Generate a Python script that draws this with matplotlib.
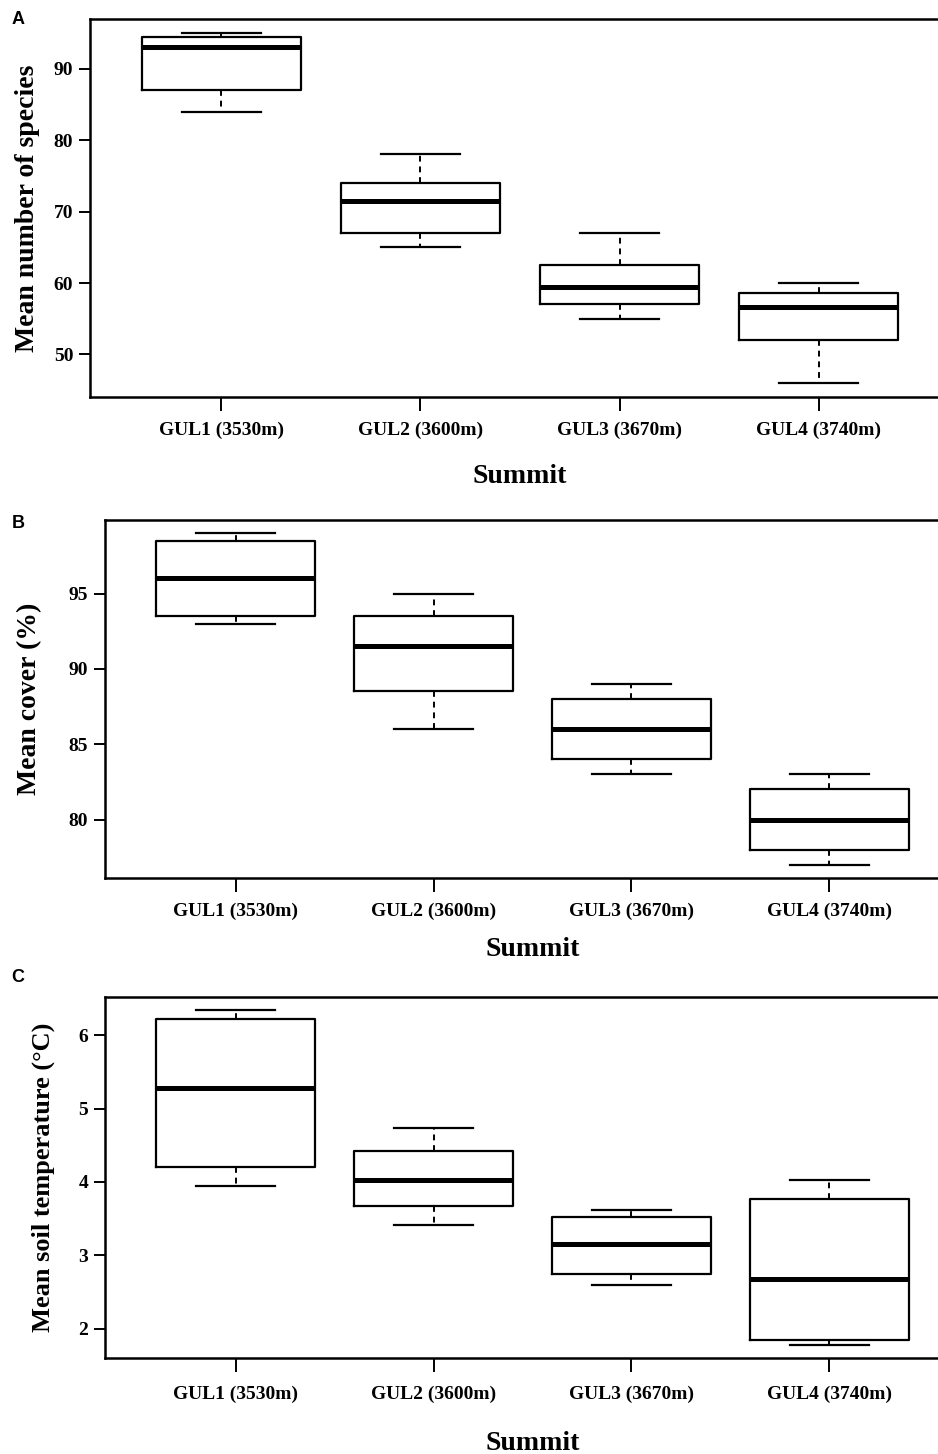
import matplotlib
matplotlib.use("Agg")
import matplotlib.pyplot as plt

# summits on the x axis
summits = ["GUL1 (3530m)", "GUL2 (3600m)", "GUL3 (3670m)", "GUL4 (3740m)"]

# box stats: low whisker, q1, median, q3, high whisker
species_low = [84, 65, 55, 46]
species_q1 = [87, 67, 57, 52]
species_med = [93, 71.5, 59.5, 56.7]
species_q3 = [94.5, 74, 62.5, 58.6]
species_high = [95, 78, 67, 60]

cover_low = [93, 86, 83, 77]
cover_q1 = [93.5, 88.5, 84, 78]
cover_med = [96, 91.5, 86, 80]
cover_q3 = [98.5, 93.5, 88, 82]
cover_high = [99, 95, 89, 83]

temp_low = [3.94, 3.41, 2.60, 1.78]
temp_q1 = [4.20, 3.67, 2.75, 1.84]
temp_med = [5.28, 4.02, 3.15, 2.68]
temp_q3 = [6.22, 4.42, 3.52, 3.76]
temp_high = [6.34, 4.74, 3.62, 4.02]

W, H = 938, 1454
fig = plt.figure(figsize=(W / 100, H / 100), dpi=100)

serif = "Liberation Serif"


def px_axes(left, top, right, bottom):
    return fig.add_axes([left / W, 1 - bottom / H, (right - left) / W, (bottom - top) / H])


def draw_panel(ax, low, q1, med, q3, high, yticks, ylabel, ylab_x, ylab_size,
               xpad, xlab_pad, letter, letter_y):
    stats = []
    for i in range(len(summits)):
        stats.append(dict(med=med[i], q1=q1[i], q3=q3[i], whislo=low[i], whishi=high[i],
                          fliers=[], label=summits[i]))
    ax.bxp(stats, positions=[1, 2, 3, 4], widths=0.8, showfliers=False,
           boxprops=dict(color="black", linewidth=1.6),
           medianprops=dict(color="black", linewidth=3.6, solid_capstyle="butt"),
           whiskerprops=dict(color="black", linewidth=1.4, linestyle=(0, (3, 2.5))),
           capprops=dict(color="black", linewidth=1.6), capwidths=0.4)
    # R style limits: range of data plus 4 %
    lo, hi = min(low), max(high)
    pad = (hi - lo) * 0.04
    ax.set_ylim(lo - pad, hi + pad)
    ax.set_xlim(0.34, 4.66)
    ax.set_yticks(yticks)
    ax.set_yticklabels([str(t) for t in yticks], fontfamily=serif, fontweight="bold",
                       fontsize=14)
    ax.set_xticks([1, 2, 3, 4])
    ax.set_xticklabels(summits, fontfamily=serif, fontweight="bold", fontsize=14)
    ax.tick_params(axis="y", length=8, width=1.4, pad=4)
    ax.tick_params(axis="x", length=10, width=1.4, pad=xpad)
    for s in ax.spines.values():
        s.set_linewidth(1.8)
    ax.set_ylabel(ylabel, fontfamily=serif, fontweight="bold", fontsize=ylab_size)
    bb = ax.get_position()
    ax.yaxis.set_label_coords((ylab_x / W - bb.x0) / bb.width, 0.5)
    ax.set_xlabel("Summit", fontfamily=serif, fontweight="bold", fontsize=20,
                  labelpad=xlab_pad)
    fig.text(18 / W, 1 - letter_y / H, letter, fontfamily="Liberation Sans",
             fontweight="bold", fontsize=13, ha="center", va="center")


axA = px_axes(90, 19, 950, 397)
draw_panel(axA, species_low, species_q1, species_med, species_q3, species_high,
           [50, 60, 70, 80, 90], "Mean number of species", 40, 20, 8, 18, "A", 20)

axB = px_axes(105, 520, 960, 878)
draw_panel(axB, cover_low, cover_q1, cover_med, cover_q3, cover_high,
           [80, 85, 90, 95], "Mean cover (%)", 42, 20, 8, 12, "B", 524)

axC = px_axes(105, 997, 960, 1358)
draw_panel(axC, temp_low, temp_q1, temp_med, temp_q3, temp_high,
           [2, 3, 4, 5, 6], "Mean soil temperature (°C)", 55, 19, 10, 20, "C", 978)

fig.savefig("out.png", dpi=100)
